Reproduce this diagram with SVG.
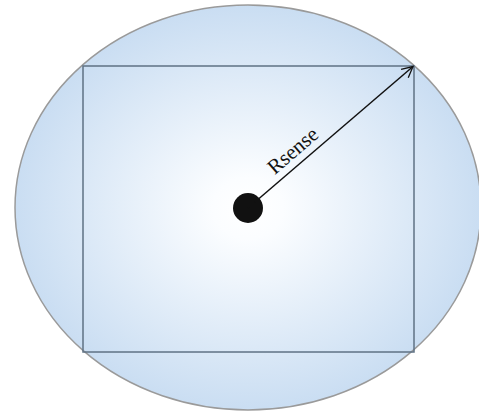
<svg xmlns="http://www.w3.org/2000/svg" width="479" height="412" viewBox="0 0 479 412">
<defs>
<radialGradient id="bg" cx="248" cy="208" r="235" gradientUnits="userSpaceOnUse" gradientTransform="translate(248 208) scale(1 0.87) translate(-248 -208)">
<stop offset="0" stop-color="#ffffff"/>
<stop offset="0.15" stop-color="#fbfdff"/>
<stop offset="1" stop-color="#c9ddf2"/>
</radialGradient>
<marker id="ah" markerWidth="14" markerHeight="14" refX="12" refY="7" orient="auto" markerUnits="userSpaceOnUse">
<path d="M1,1.5 L12,7 L1,12.5" fill="none" stroke="#111" stroke-width="1.3"/>
</marker>
<style>
.sq{fill:none;stroke:#5f7284;stroke-width:1.5}
.lbl{font-family:"Liberation Serif",serif;font-size:21px;fill:#111}
</style>
</defs>
<g id="area">
<ellipse cx="248" cy="207.5" rx="233" ry="202.5" fill="url(#bg)" stroke="#9a9a9a" stroke-width="1.5"/>
</g>
<g id="square">
<rect class="sq" x="83" y="66" width="331" height="286"/>
</g>
<g id="center">
<circle cx="248" cy="208" r="15" fill="#111"/>
</g>
<g id="connectors">
<line x1="248" y1="208" x2="413" y2="66.5" stroke="#111" stroke-width="1.5" marker-end="url(#ah)"/>
<text class="lbl" transform="translate(294 152) rotate(-40.6)" text-anchor="middle" dy="5">Rsense</text>
</g>
</svg>
